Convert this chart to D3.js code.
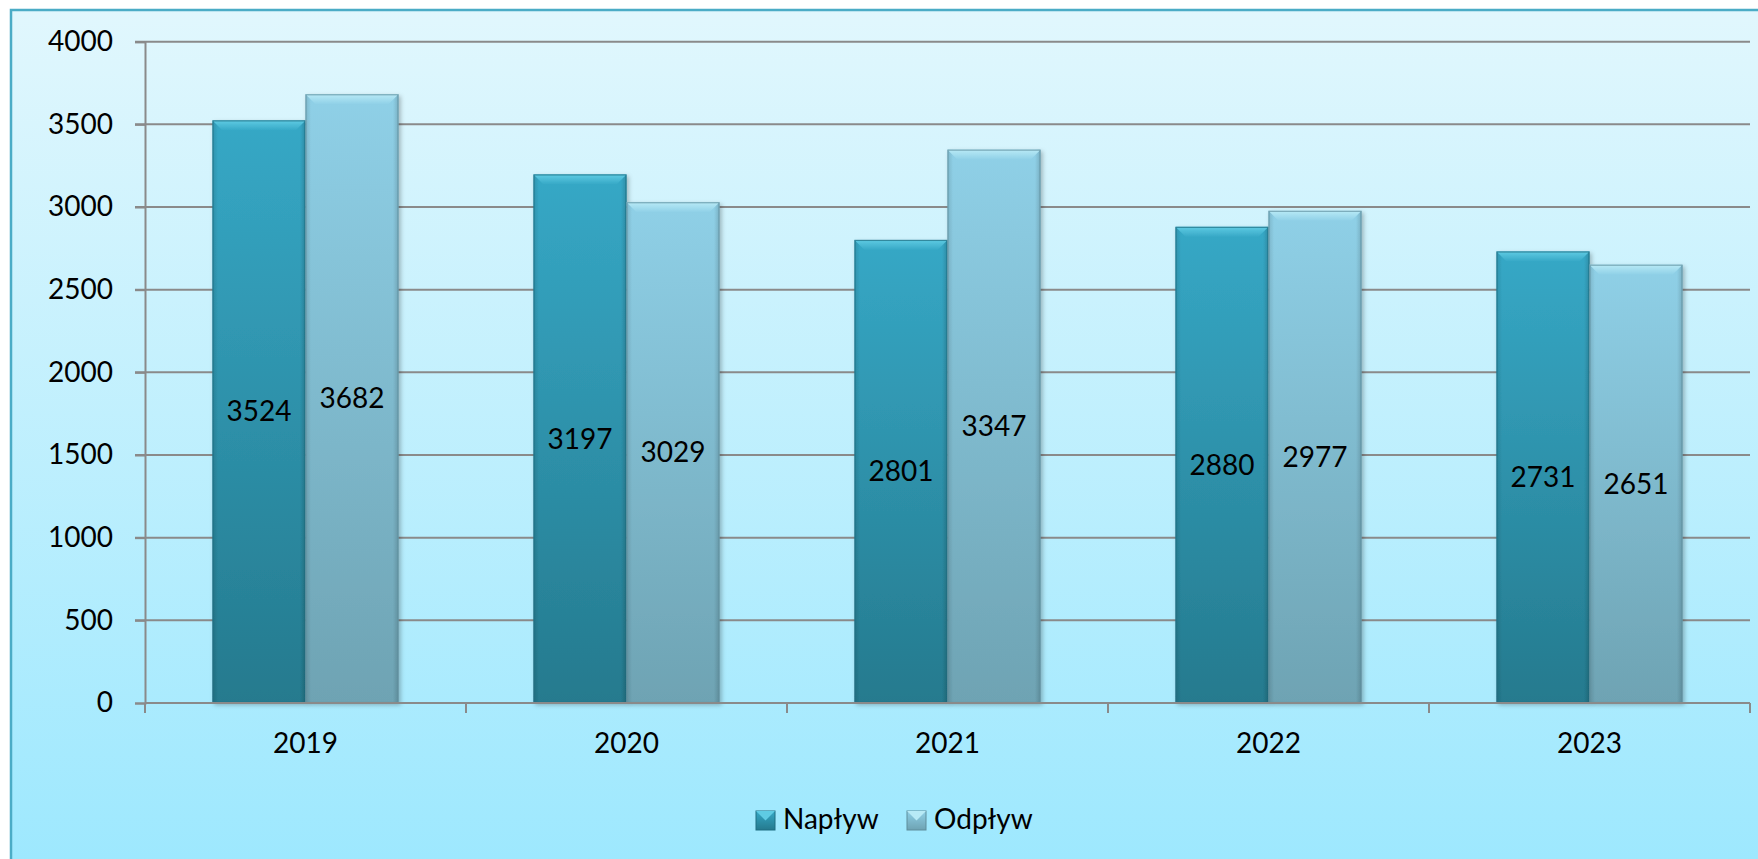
<!DOCTYPE html>
<html>
<head>
<meta charset="utf-8">
<script src="https://cdn.jsdelivr.net/npm/d3@7"></script>
<style>
  html, body { margin: 0; padding: 0; background: #ffffff; }
  svg { display: block; }
</style>
</head>
<body>
<svg id="chart"></svg>
<script>
// data
const years = ["2019", "2020", "2021", "2022", "2023"];
const seriesNames = ["Napływ", "Odpływ"];
const naplyw = [3524, 3197, 2801, 2880, 2731];
const odplyw = [3682, 3029, 3347, 2977, 2651];
const yTicks = [0, 500, 1000, 1500, 2000, 2500, 3000, 3500, 4000];

const width = 1758, height = 859;
const plot = { left: 145, right: 1750, top: 41.7, bottom: 703 };
const font = "Lato, 'Open Sans', sans-serif";
const fontSize = 28;

// colours per series: top / bottom of gradient, bevel highlight, edge
const colours = [
  { top: "#36a8c6", bottom: "#257a8e", bevel: "#5fcbe3", edge: "#1f6e82" },
  { top: "#8fd0e7", bottom: "#6ea3b3", bevel: "#b8eaf6", edge: "#5f8e9c" }
];

const svg = d3.select("#chart")
    .attr("width", width)
    .attr("height", height);

const defs = svg.append("defs");

// background gradient
const bg = defs.append("linearGradient")
    .attr("id", "bg").attr("x1", 0).attr("y1", 0).attr("x2", 0).attr("y2", 1);
bg.append("stop").attr("offset", 0).attr("stop-color", "#e1f7fd");
bg.append("stop").attr("offset", 1).attr("stop-color", "#9de8fe");

colours.forEach((c, i) => {
    const g = defs.append("linearGradient")
        .attr("id", "bar" + i).attr("x1", 0).attr("y1", 0).attr("x2", 0).attr("y2", 1);
    g.append("stop").attr("offset", 0).attr("stop-color", c.top);
    g.append("stop").attr("offset", 1).attr("stop-color", c.bottom);

    const side = defs.append("linearGradient")
        .attr("id", "side" + i).attr("x1", 0).attr("y1", 0).attr("x2", 1).attr("y2", 0);
    side.append("stop").attr("offset", 0).attr("stop-color", "#000").attr("stop-opacity", 0.12);
    side.append("stop").attr("offset", 0.06).attr("stop-color", "#000").attr("stop-opacity", 0);
    side.append("stop").attr("offset", 0.94).attr("stop-color", "#000").attr("stop-opacity", 0);
    side.append("stop").attr("offset", 1).attr("stop-color", "#000").attr("stop-opacity", 0.15);

    const bev = defs.append("linearGradient")
        .attr("id", "bev" + i).attr("x1", 0).attr("y1", 0).attr("x2", 0).attr("y2", 1);
    bev.append("stop").attr("offset", 0).attr("stop-color", c.bevel);
    bev.append("stop").attr("offset", 1).attr("stop-color", c.top);
});

const shadow = defs.append("filter").attr("id", "shadow")
    .attr("x", "-10%").attr("y", "-10%").attr("width", "130%").attr("height", "130%");
shadow.append("feDropShadow").attr("dx", 2).attr("dy", 2).attr("stdDeviation", 2)
    .attr("flood-color", "#000").attr("flood-opacity", 0.25);

// frame
svg.append("rect")
    .attr("x", 11).attr("y", 10)
    .attr("width", width).attr("height", height)
    .attr("fill", "url(#bg)")
    .attr("stroke", "#4bacc6")
    .attr("stroke-width", 2.5);

// scales
const x = d3.scaleBand().domain(years).range([plot.left, plot.right]);
const barW = 93;
const x1 = d3.scaleBand().domain(seriesNames).range([0, barW * 2]);
const groupOffset = (x.bandwidth() - barW * 2) / 2;
const y = d3.scaleLinear().domain([0, 4000]).range([plot.bottom, plot.top]);

// gridlines
svg.append("g")
    .selectAll("line")
    .data(yTicks.filter(t => t > 0))
    .join("line")
    .attr("x1", plot.left - 10).attr("x2", plot.right)
    .attr("y1", d => y(d)).attr("y2", d => y(d))
    .attr("stroke", "#8a8a8a")
    .attr("stroke-width", 2);

// y axis
const yAxis = svg.append("g")
    .attr("transform", `translate(${plot.left},0)`)
    .call(d3.axisLeft(y).tickValues(yTicks).tickFormat(d3.format("d")).tickSize(10).tickPadding(22));
yAxis.select(".domain").attr("stroke", "#8a8a8a").attr("stroke-width", 2);
yAxis.selectAll(".tick line").attr("stroke", "#8a8a8a").attr("stroke-width", 2);
yAxis.selectAll(".tick text")
    .attr("font-family", font).attr("font-size", fontSize).attr("fill", "#000");

// bars
const series = [naplyw, odplyw];
const groups = svg.append("g")
    .selectAll("g")
    .data(years)
    .join("g")
    .attr("transform", d => `translate(${x(d) + groupOffset},0)`);

groups.each(function(year, yi) {
    const g = d3.select(this);
    seriesNames.forEach((name, si) => {
        const v = series[si][yi];
        const bx = x1(name), by = y(v), bh = y(0) - y(v), bw = x1.bandwidth();
        const c = colours[si];
        const bar = g.append("g").attr("filter", "url(#shadow)");
        bar.append("rect")
            .attr("x", bx).attr("y", by).attr("width", bw).attr("height", bh)
            .attr("fill", `url(#bar${si})`);
        bar.append("rect")
            .attr("x", bx).attr("y", by).attr("width", bw).attr("height", bh)
            .attr("fill", `url(#side${si})`);
        // top bevel
        const bev = 10;
        bar.append("path")
            .attr("d", `M${bx},${by} L${bx + bw},${by} L${bx + bw - bev},${by + bev} L${bx + bev},${by + bev} Z`)
            .attr("fill", `url(#bev${si})`);
        bar.append("rect")
            .attr("x", bx + 0.5).attr("y", by + 0.5).attr("width", bw - 1).attr("height", bh - 1)
            .attr("fill", "none")
            .attr("stroke", c.edge).attr("stroke-opacity", 0.7).attr("stroke-width", 1.2);
        // value label at centre
        g.append("text")
            .attr("x", bx + bw / 2)
            .attr("y", (by + y(0)) / 2)
            .attr("dy", "0.35em")
            .attr("text-anchor", "middle")
            .attr("font-family", font).attr("font-size", fontSize)
            .attr("fill", "#000")
            .text(v);
    });
});

// x axis
const xAxis = svg.append("g")
    .attr("transform", `translate(0,${plot.bottom})`)
    .call(d3.axisBottom(x).tickSize(0).tickPadding(30));
xAxis.select(".domain").remove();
xAxis.selectAll(".tick text")
    .attr("font-family", font).attr("font-size", fontSize).attr("fill", "#000");
svg.append("line")
    .attr("x1", plot.left).attr("x2", plot.right)
    .attr("y1", plot.bottom).attr("y2", plot.bottom)
    .attr("stroke", "#8a8a8a").attr("stroke-width", 2);
svg.append("g")
    .selectAll("line")
    .data(years.map(d => x(d)).concat([plot.right]))
    .join("line")
    .attr("x1", d => d).attr("x2", d => d)
    .attr("y1", plot.bottom).attr("y2", plot.bottom + 10)
    .attr("stroke", "#8a8a8a").attr("stroke-width", 2);

// legend
const legendX = [756, 907];
const legend = svg.append("g")
    .selectAll("g")
    .data(seriesNames)
    .join("g")
    .attr("transform", (d, i) => `translate(${legendX[i]},811)`);
legend.append("rect")
    .attr("width", 19).attr("height", 19)
    .attr("fill", (d, i) => `url(#bar${i})`)
    .attr("stroke", (d, i) => colours[i].edge).attr("stroke-width", 1);
legend.append("path")
    .attr("d", "M0,0 L19,0 L9.5,9.5 Z")
    .attr("fill", (d, i) => colours[i].bevel);
legend.append("text")
    .attr("x", 27).attr("y", 18)
    .attr("font-family", font).attr("font-size", fontSize).attr("fill", "#000")
    .text(d => d);
</script>
</body>
</html>
